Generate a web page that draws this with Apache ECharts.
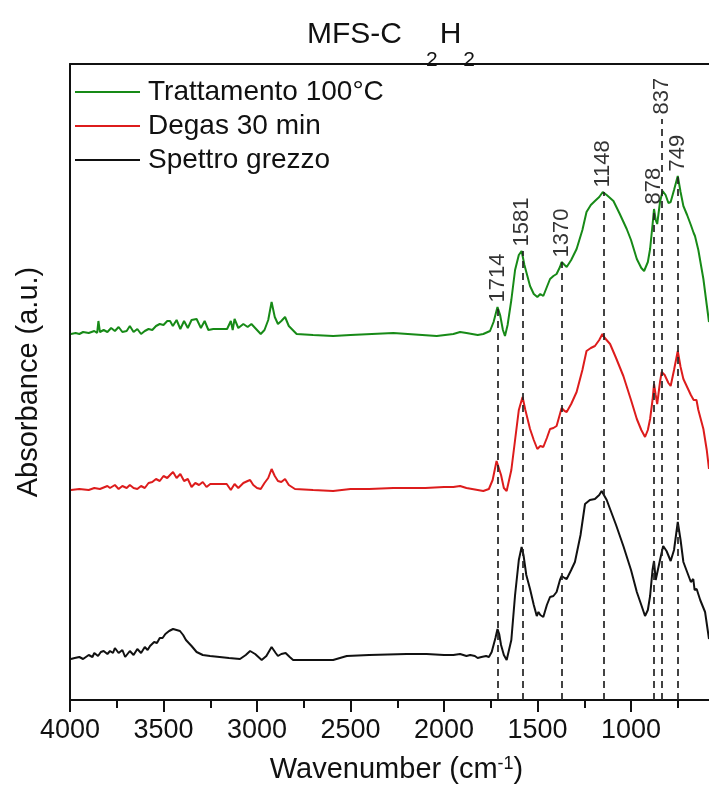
<!DOCTYPE html>
<html>
<head>
<meta charset="utf-8">
<script src="https://cdn.jsdelivr.net/npm/echarts@6/dist/echarts.min.js"></script>
<style>html,body{margin:0;padding:0;background:#fff}#c{width:709px;height:787px}</style>
</head>
<body>
<div id="c"></div>
<script>
// ---- data (wavenumber cm^-1, absorbance a.u., spectra offset vertically) ----
const seriesNames = ['Trattamento 100°C', 'Degas 30 min', 'Spettro grezzo'];

const greenSpectrum = [
[3995,3.66],[3970,3.67],[3950,3.66],[3930,3.68],[3900,3.67],[3870,3.69],[3855,3.67],[3848,3.79],[3840,3.68],[3820,3.70],[3800,3.68],[3780,3.72],[3760,3.69],[3740,3.73],[3720,3.68],[3697,3.69],[3680,3.74],[3660,3.68],[3640,3.71],[3620,3.66],[3600,3.69],[3580,3.71],[3560,3.70],[3540,3.74],[3520,3.76],[3500,3.75],[3480,3.79],[3465,3.79],[3450,3.74],[3430,3.80],[3410,3.71],[3390,3.79],[3370,3.72],[3350,3.80],[3323,3.81],[3300,3.72],[3280,3.79],[3260,3.70],[3234,3.71],[3160,3.71],[3140,3.79],[3130,3.70],[3120,3.81],[3100,3.72],[3073,3.76],[3050,3.73],[3030,3.76],[3000,3.70],[2980,3.66],[2960,3.70],[2940,3.80],[2922,3.98],[2905,3.83],[2888,3.76],[2870,3.79],[2850,3.83],[2830,3.74],[2788,3.66],[2700,3.65],[2593,3.64],[2500,3.65],[2271,3.67],[2039,3.64],[1950,3.66],[1914,3.68],[1880,3.67],[1850,3.66],[1820,3.65],[1790,3.66],[1754,3.69],[1735,3.78],[1714,3.93],[1700,3.85],[1685,3.70],[1674,3.64],[1660,3.75],[1640,4.00],[1620,4.30],[1600,4.45],[1585,4.49],[1570,4.35],[1540,4.14],[1520,4.06],[1501,4.03],[1485,4.06],[1469,4.04],[1450,4.13],[1433,4.21],[1415,4.24],[1398,4.26],[1380,4.33],[1371,4.38],[1355,4.35],[1344,4.33],[1320,4.40],[1291,4.51],[1260,4.70],[1238,4.88],[1215,4.95],[1193,4.99],[1170,5.03],[1151,5.08],[1130,5.05],[1094,4.99],[1060,4.86],[1023,4.71],[1000,4.60],[969,4.41],[945,4.32],[930,4.29],[910,4.38],[898,4.51],[885,4.75],[877,4.91],[868,4.80],[860,4.76],[845,4.98],[831,5.09],[815,5.05],[800,4.97],[788,4.98],[770,5.10],[750,5.24],[735,5.08],[720,4.94],[700,4.85],[680,4.75],[665,4.67],[658,4.64],[652,4.66],[640,4.50],[613,4.21],[595,3.95],[583,3.78]
];

const redSpectrum = [
[3995,2.10],[3950,2.11],[3900,2.10],[3870,2.12],[3840,2.11],[3800,2.14],[3786,2.12],[3760,2.15],[3740,2.11],[3720,2.14],[3697,2.12],[3680,2.15],[3660,2.12],[3640,2.11],[3620,2.14],[3600,2.12],[3580,2.17],[3560,2.18],[3540,2.21],[3520,2.19],[3500,2.24],[3480,2.22],[3460,2.26],[3449,2.28],[3430,2.22],[3410,2.26],[3390,2.19],[3370,2.21],[3350,2.13],[3330,2.17],[3310,2.15],[3290,2.18],[3270,2.13],[3250,2.16],[3200,2.16],[3162,2.16],[3140,2.10],[3120,2.16],[3100,2.12],[3073,2.17],[3050,2.19],[3037,2.20],[3020,2.15],[3000,2.12],[2980,2.11],[2960,2.17],[2940,2.22],[2922,2.31],[2905,2.24],[2888,2.19],[2870,2.18],[2850,2.21],[2830,2.15],[2797,2.11],[2700,2.10],[2593,2.09],[2500,2.11],[2400,2.11],[2271,2.12],[2100,2.12],[2000,2.13],[1950,2.13],[1914,2.14],[1880,2.12],[1850,2.11],[1820,2.10],[1790,2.09],[1760,2.11],[1740,2.20],[1719,2.39],[1710,2.38],[1695,2.25],[1680,2.12],[1665,2.09],[1640,2.30],[1620,2.60],[1600,2.90],[1580,3.03],[1565,2.90],[1540,2.71],[1520,2.60],[1501,2.51],[1485,2.54],[1469,2.53],[1450,2.62],[1433,2.71],[1415,2.72],[1398,2.74],[1380,2.86],[1371,2.92],[1355,2.89],[1344,2.88],[1320,2.96],[1291,3.08],[1260,3.30],[1238,3.49],[1215,3.52],[1193,3.54],[1170,3.60],[1153,3.66],[1140,3.62],[1112,3.56],[1080,3.42],[1041,3.24],[1000,3.00],[969,2.81],[945,2.70],[925,2.63],[910,2.70],[898,2.81],[885,3.00],[877,3.16],[868,3.05],[860,2.96],[845,3.18],[836,3.28],[820,3.25],[800,3.17],[788,3.14],[770,3.30],[750,3.49],[735,3.33],[720,3.21],[700,3.13],[680,3.05],[665,3.00],[658,2.99],[650,3.00],[640,2.90],[613,2.71],[595,2.50],[583,2.31]
];

const blackSpectrum = [
[3995,0.41],[3975,0.42],[3950,0.43],[3930,0.41],[3900,0.45],[3880,0.43],[3870,0.47],[3850,0.44],[3835,0.48],[3820,0.49],[3800,0.46],[3786,0.49],[3770,0.47],[3760,0.52],[3740,0.47],[3720,0.50],[3705,0.43],[3697,0.44],[3680,0.49],[3660,0.45],[3640,0.51],[3620,0.47],[3600,0.53],[3585,0.50],[3572,0.54],[3550,0.58],[3535,0.57],[3520,0.62],[3505,0.62],[3490,0.66],[3470,0.69],[3449,0.71],[3430,0.70],[3412,0.69],[3395,0.65],[3380,0.60],[3350,0.54],[3323,0.48],[3290,0.45],[3251,0.44],[3200,0.43],[3150,0.42],[3091,0.41],[3060,0.45],[3037,0.49],[3010,0.46],[2975,0.40],[2950,0.44],[2922,0.53],[2900,0.47],[2888,0.44],[2870,0.46],[2847,0.47],[2825,0.43],[2807,0.40],[2700,0.40],[2593,0.40],[2520,0.44],[2400,0.45],[2300,0.455],[2200,0.46],[2093,0.46],[2000,0.45],[1950,0.45],[1914,0.46],[1880,0.44],[1860,0.45],[1850,0.43],[1835,0.44],[1820,0.42],[1800,0.43],[1790,0.42],[1775,0.44],[1760,0.43],[1745,0.48],[1725,0.62],[1714,0.71],[1705,0.66],[1695,0.55],[1680,0.45],[1665,0.40],[1656,0.39],[1640,0.60],[1620,1.05],[1600,1.40],[1585,1.53],[1575,1.45],[1560,1.25],[1540,1.11],[1520,0.95],[1504,0.84],[1495,0.88],[1485,0.85],[1469,0.83],[1450,0.95],[1433,1.03],[1415,1.04],[1398,1.08],[1380,1.20],[1371,1.24],[1355,1.22],[1344,1.21],[1320,1.30],[1300,1.38],[1270,1.65],[1246,1.96],[1220,2.00],[1193,2.01],[1170,2.05],[1157,2.09],[1148,2.08],[1130,2.00],[1112,1.91],[1080,1.75],[1041,1.54],[1000,1.30],[969,1.08],[945,0.95],[925,0.84],[910,0.90],[898,1.04],[885,1.30],[877,1.39],[868,1.20],[860,1.18],[845,1.40],[828,1.54],[810,1.49],[788,1.39],[770,1.50],[750,1.78],[735,1.60],[720,1.38],[700,1.28],[680,1.18],[667,1.21],[660,1.10],[649,1.11],[630,1.00],[604,0.88],[583,0.61]
];

const peakWavenumbers = [1714, 1581, 1370, 1148, 878, 837, 749];
const peakLineTops   = [3.93, 4.49, 4.38, 5.08, 4.91, 5.81, 5.24];
const peakLabels     = ['1714', '1581', '1370', '1148', '878', '837', '749'];

const xMajorTicks = [4000, 3500, 3000, 2500, 2000, 1500, 1000];
const xMinorTicks = [3750, 3250, 2750, 2250, 1750, 1250, 750];
const xRange = [583, 4000];

// ---- chart ----
const FONT = 'Liberation Sans, Arial, Helvetica, sans-serif';
const colors = ['#178a17', '#dd1c1c', '#111111'];
const spectra = [greenSpectrum, redSpectrum, blackSpectrum];

const chart = echarts.init(document.getElementById('c'), null, {renderer: 'canvas'});

const series = spectra.map((d, i) => ({
  name: seriesNames[i],
  type: 'line',
  data: d,
  symbol: 'none',
  showSymbol: false,
  lineStyle: {color: colors[i], width: 2},
  itemStyle: {color: colors[i]},
  z: 3 - i,
  animation: false
}));

series.push({
  name: 'peaks',
  type: 'scatter',
  data: peakWavenumbers.map((w, i) => [w, peakLineTops[i], peakLabels[i]]),
  symbolSize: 1,
  itemStyle: {color: 'rgba(0,0,0,0)'},
  z: 5,
  label: {
    show: true,
    position: 'top',
    distance: 4,
    rotate: 90,
    align: 'left',
    verticalAlign: 'middle',
    fontSize: 22,
    fontFamily: FONT,
    color: '#000',
    formatter: p => p.value[2]
  },
  markLine: {
    silent: true,
    symbol: 'none',
    animation: false,
    label: {show: false},
    lineStyle: {color: '#222', width: 1.7, type: [7, 5]},
    data: peakWavenumbers.map((w, i) => [{coord: [w, 0]}, {coord: [w, peakLineTops[i]]}])
  },
  animation: false
});

const tickLine = {color: '#111', width: 2};

chart.setOption({
  backgroundColor: '#fff',
  animation: false,
  title: {
    text: '{m|MFS-C}{s1|2}{m|H}{s2|2}',
    left: 307,
    top: 20,
    padding: 0,
    textStyle: {
      fontWeight: 'normal',
      rich: {
        m: {fontSize: 30, fontFamily: FONT, fontWeight: 'normal', color: '#111', lineHeight: 40, verticalAlign: 'top'},
        s1: {fontSize: 21, fontFamily: FONT, fontWeight: 'normal', color: '#111', lineHeight: 51, padding: [0, 2, 0, 24], verticalAlign: 'bottom'},
        s2: {fontSize: 21, fontFamily: FONT, fontWeight: 'normal', color: '#111', lineHeight: 51, padding: [0, 0, 0, 2], verticalAlign: 'bottom'}
      }
    }
  },
  legend: {
    data: seriesNames,
    orient: 'vertical',
    left: 75,
    top: 78,
    padding: 0,
    icon: 'rect',
    itemWidth: 65,
    itemHeight: 2,
    itemGap: 6,
    textStyle: {fontSize: 28, lineHeight: 28, fontFamily: FONT, color: '#111', padding: [0, 0, 0, 3]}
  },
  grid: {left: 70, top: 64, right: 0, bottom: 87, containLabel: false, outerBoundsMode: 'none'},
  xAxis: [
    {
      type: 'value',
      inverse: true,
      min: xRange[0],
      max: xRange[1],
      position: 'bottom',
      name: '{n|Wavenumber (cm}{sup|-1}{n|)}',
      nameLocation: 'middle',
      nameGap: 55,
      nameTextStyle: {
        padding: [0, 0, 0, 14],
        rich: {
          n: {fontSize: 29, fontFamily: FONT, color: '#111', verticalAlign: 'bottom', lineHeight: 29},
          sup: {fontSize: 18, fontFamily: FONT, color: '#111', lineHeight: 18, padding: [0, 0, 22, 0], verticalAlign: 'top'}
        }
      },
      axisLine: {show: true, onZero: false, lineStyle: {color: '#111', width: 2}},
      axisTick: {show: true, length: 12, customValues: xMajorTicks, lineStyle: tickLine},
      splitLine: {show: false},
      axisLabel: {fontSize: 27, fontFamily: FONT, color: '#111', margin: 17, customValues: xMajorTicks, formatter: v => String(v)}
    },
    {
      type: 'value',
      inverse: true,
      min: xRange[0],
      max: xRange[1],
      position: 'bottom',
      axisLine: {show: false, onZero: false},
      axisTick: {show: true, length: 8, customValues: xMinorTicks, lineStyle: tickLine},
      axisLabel: {show: false, customValues: xMinorTicks},
      splitLine: {show: false}
    },
    {
      type: 'value',
      inverse: true,
      min: xRange[0],
      max: xRange[1],
      position: 'top',
      axisLine: {show: true, onZero: false, lineStyle: {color: '#111', width: 2}},
      axisTick: {show: false},
      axisLabel: {show: false},
      splitLine: {show: false}
    }
  ],
  yAxis: {
    type: 'value',
    min: 0,
    max: 6.36,
    name: 'Absorbance (a.u.)',
    nameLocation: 'middle',
    nameGap: 27,
    nameTextStyle: {fontSize: 29, fontFamily: FONT, color: '#111'},
    axisLine: {show: true, onZero: false, lineStyle: {color: '#111', width: 2}},
    axisTick: {show: false},
    axisLabel: {show: false},
    splitLine: {show: false}
  },
  series: series
});
</script>
</body>
</html>
